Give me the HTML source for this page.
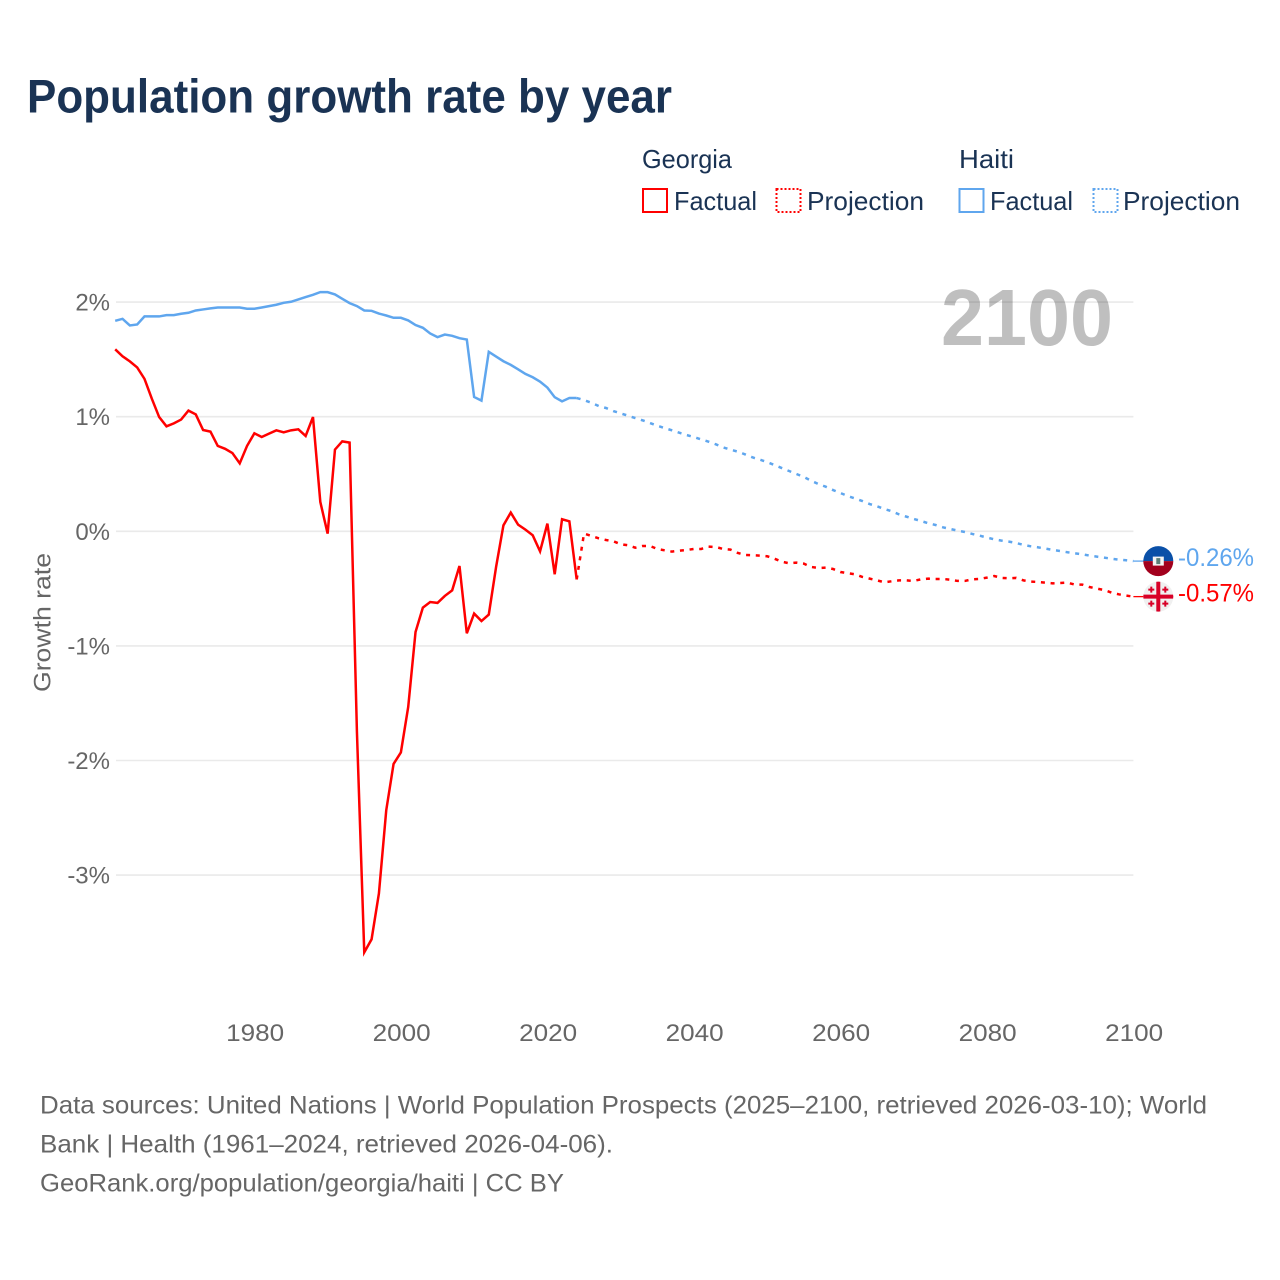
<!DOCTYPE html>
<html lang="en">
<head>
<meta charset="utf-8">
<title>Population growth rate by year</title>
<style>
html,body{margin:0;padding:0;background:#fff;width:1280px;height:1280px;overflow:hidden}
svg{display:block}
text{font-family:"Liberation Sans",sans-serif}
</style>
</head>
<body>
<svg id="chart" xmlns="http://www.w3.org/2000/svg" width="1280" height="1280" viewBox="0 0 1280 1280">
  <rect width="1280" height="1280" fill="#fff"/>
  <text x="27" y="112.500" font-size="47" font-weight="700" fill="#1a3354" textLength="645" lengthAdjust="spacingAndGlyphs">Population growth rate by year</text>

  <g font-size="26" fill="#1a3354">
    <text x="642" y="168" textLength="90" lengthAdjust="spacingAndGlyphs">Georgia</text>
    <text x="959" y="168" textLength="55" lengthAdjust="spacingAndGlyphs">Haiti</text>
    <rect x="643" y="189" width="24" height="23" fill="none" stroke="#ff0000" stroke-width="2"/>
    <text x="674" y="210" textLength="83" lengthAdjust="spacingAndGlyphs">Factual</text>
    <rect x="776.500" y="189" width="24" height="23" fill="none" stroke="#ff0000" stroke-width="2" stroke-dasharray="2 2"/>
    <text x="807" y="210" textLength="117" lengthAdjust="spacingAndGlyphs">Projection</text>
    <rect x="959.500" y="189" width="24" height="23" fill="none" stroke="#5fa6ee" stroke-width="2"/>
    <text x="990" y="210" textLength="83" lengthAdjust="spacingAndGlyphs">Factual</text>
    <rect x="1093.500" y="189" width="24" height="23" fill="none" stroke="#5fa6ee" stroke-width="2" stroke-dasharray="2 2"/>
    <text x="1123" y="210" textLength="117" lengthAdjust="spacingAndGlyphs">Projection</text>
  </g>

  <g id="grid"></g>
  <g id="yticks" font-size="24" fill="#666" text-anchor="end"></g>
  <g id="xticks" font-size="24" fill="#666" text-anchor="middle"></g>
  <text transform="translate(50.500,622.500) rotate(-90)" font-size="24" fill="#666" text-anchor="middle" textLength="139" lengthAdjust="spacingAndGlyphs">Growth rate</text>
  <text id="year-label" x="941" y="345" font-size="80" font-weight="700" fill="#000" fill-opacity="0.25" textLength="172" lengthAdjust="spacingAndGlyphs">2100</text>

  <g id="series" fill="none"></g>

  <defs>
    <clipPath id="clip-haiti"><circle cx="0" cy="0" r="15"/></clipPath>
    <clipPath id="clip-georgia"><circle cx="0" cy="0" r="15"/></clipPath>
  </defs>
  <g id="flag-haiti">
    <g clip-path="url(#clip-haiti)">
      <rect x="-16" y="-16" width="32" height="16" fill="#0a50a8"/>
      <rect x="-16" y="0" width="32" height="16" fill="#a2001d"/>
      <rect x="-5.500" y="-4.500" width="11" height="9" fill="#f4f4f4"/>
      <rect x="-2" y="-3" width="4" height="6" fill="#5a7f78"/>
    </g>
  </g>
  <g id="flag-georgia">
    <g clip-path="url(#clip-georgia)">
      <rect x="-16" y="-16" width="32" height="32" fill="#f0f0f0"/>
      <rect x="-2" y="-16" width="4" height="32" fill="#d80027"/>
      <rect x="-16" y="-2" width="32" height="4" fill="#d80027"/>
      <path d="M-7-10v6M-10-7h6M7-10v6M4-7h6M-7 4v6M-10 7h6M7 4v6M4 7h6" stroke="#d80027" stroke-width="2" fill="none"/>
    </g>
  </g>
  <text id="label-haiti" x="1178" font-size="25" fill="#5fa6ee" textLength="76" lengthAdjust="spacingAndGlyphs"></text>
  <text id="label-georgia" x="1178" font-size="25" fill="#ff0000" textLength="76" lengthAdjust="spacingAndGlyphs"></text>

  <g font-size="25" fill="#666">
    <text x="40" y="1113.500" textLength="1167" lengthAdjust="spacingAndGlyphs">Data sources: United Nations | World Population Prospects (2025–2100, retrieved 2026-03-10); World</text>
    <text x="40" y="1152.500" textLength="573" lengthAdjust="spacingAndGlyphs">Bank | Health (1961–2024, retrieved 2026-04-06).</text>
    <text x="40" y="1191.500" textLength="524" lengthAdjust="spacingAndGlyphs">GeoRank.org/population/georgia/haiti | CC BY</text>
  </g>
</svg>
<script>
const firstFactualYear = 1961;
const firstProjectionYear = 2025;
const yTicks = [2, 1, 0, -1, -2, -3];
const xTicks = [1980, 2000, 2020, 2040, 2060, 2080, 2100];

const georgiaFactual = [
  1.588,1.527,1.483,1.43,1.33,1.157,0.997,0.916,0.942,0.975,
  1.053,1.02,0.884,0.87,0.745,0.72,0.683,0.593,0.745,0.855,
  0.823,0.852,0.881,0.864,0.881,0.89,0.832,0.997,0.256,-0.02,
  0.713,0.785,0.774,-1.75,-3.674,-3.56,-3.16,-2.435,-2.03,-1.93,
  -1.533,-0.879,-0.666,-0.617,-0.625,-0.564,-0.515,-0.303,-0.89,-0.718,
  -0.783,-0.727,-0.31,0.052,0.163,0.058,0.015,-0.035,-0.175,0.067,
  -0.375,0.105,0.087,-0.42
];
const georgiaProjection = [
  -0.02,-0.04,-0.061,-0.076,-0.087,-0.113,-0.122,-0.143,-0.128,-0.128,
  -0.154,-0.166,-0.177,-0.169,-0.163,-0.154,-0.154,-0.134,-0.137,-0.154,
  -0.16,-0.189,-0.207,-0.209,-0.212,-0.218,-0.239,-0.265,-0.279,-0.273,
  -0.282,-0.311,-0.32,-0.317,-0.329,-0.355,-0.366,-0.375,-0.398,-0.413,
  -0.428,-0.445,-0.436,-0.428,-0.428,-0.433,-0.419,-0.413,-0.416,-0.416,
  -0.422,-0.433,-0.433,-0.419,-0.416,-0.404,-0.39,-0.407,-0.41,-0.407,
  -0.428,-0.439,-0.442,-0.448,-0.454,-0.451,-0.448,-0.465,-0.465,-0.486,
  -0.5,-0.512,-0.535,-0.55,-0.561,-0.57
];
const haitiFactual = [
  1.837,1.854,1.796,1.805,1.875,1.875,1.875,1.886,1.886,1.898,
  1.907,1.927,1.936,1.945,1.953,1.953,1.953,1.953,1.942,1.942,
  1.953,1.965,1.977,1.994,2.003,2.023,2.044,2.064,2.087,2.087,
  2.067,2.029,1.991,1.965,1.927,1.924,1.9,1.883,1.863,1.863,
  1.84,1.8,1.776,1.726,1.694,1.717,1.706,1.685,1.673,1.172,
  1.14,1.566,1.525,1.484,1.452,1.414,1.373,1.344,1.306,1.254,
  1.17,1.134,1.163,1.163
];
const haitiProjection = [
  1.145,1.122,1.093,1.076,1.049,1.029,1.009,0.988,0.968,0.945,
  0.921,0.901,0.881,0.86,0.84,0.823,0.802,0.782,0.759,0.732,
  0.712,0.695,0.671,0.645,0.625,0.604,0.578,0.552,0.526,0.5,
  0.474,0.442,0.412,0.389,0.36,0.334,0.308,0.287,0.264,0.238,
  0.218,0.195,0.175,0.148,0.128,0.108,0.09,0.07,0.055,0.035,
  0.02,0.006,-0.006,-0.023,-0.038,-0.055,-0.07,-0.081,-0.09,-0.102,
  -0.119,-0.131,-0.14,-0.151,-0.163,-0.172,-0.183,-0.192,-0.2,-0.212,
  -0.221,-0.23,-0.239,-0.247,-0.253,-0.26
];

const SVG_NS = 'http://www.w3.org/2000/svg';
const plotLeft = 115.2;
const plotRight = 1133.4;
const xScale = function (year) { return plotLeft + (year - firstFactualYear) * (plotRight - plotLeft) / 139; };
const yScale = function (value) { return 531.3 - value * 114.6; };

const gridGroup = document.getElementById('grid');
const yTickGroup = document.getElementById('yticks');
const xTickGroup = document.getElementById('xticks');
const seriesGroup = document.getElementById('series');

yTicks.forEach(function (tick) {
  const line = document.createElementNS(SVG_NS, 'line');
  
  
  line.setAttribute('x1', plotLeft + 0.8);
  line.setAttribute('x2', plotRight);
  line.setAttribute('y1', yScale(tick));
  line.setAttribute('y2', yScale(tick));
  line.setAttribute('stroke', '#eaeaea');
  line.setAttribute('stroke-width', '1.6');
  gridGroup.appendChild(line);

  const label = document.createElementNS(SVG_NS, 'text');
  
  
  label.setAttribute('x', 110);
  label.setAttribute('y', yScale(tick) + 8.5);
  label.textContent = tick + '%';
  yTickGroup.appendChild(label);
});

xTicks.forEach(function (tick) {
  const label = document.createElementNS(SVG_NS, 'text');
  
  
  label.setAttribute('x', xScale(tick) + 0.7);
  label.setAttribute('y', 1041);
  label.setAttribute('textLength', '58');
  label.setAttribute('lengthAdjust', 'spacingAndGlyphs');
  label.textContent = tick;
  xTickGroup.appendChild(label);
});

function pathFor(startYear, values) {
  return values.map(function (value, i) {
    return (i ? 'L' : 'M') + xScale(startYear + i).toFixed(2) + ' ' + yScale(value).toFixed(2);
  }).join('');
}

function drawFactual(name, values, color) {
  const path = document.createElementNS(SVG_NS, 'path');
  
  
  path.setAttribute('d', pathFor(firstFactualYear, values));
  path.setAttribute('stroke', color);
  path.setAttribute('stroke-width', '2.5');
  path.setAttribute('stroke-linejoin', 'miter');
  seriesGroup.appendChild(path);
}

function drawProjection(name, lastFactual, values, color) {
  const path = document.createElementNS(SVG_NS, 'path');
  
  
  path.setAttribute('d', pathFor(firstProjectionYear - 1, [lastFactual].concat(values)));
  path.setAttribute('stroke', color);
  path.setAttribute('stroke-width', '2.5');
  path.setAttribute('stroke-dasharray', '4 5.7');
  seriesGroup.appendChild(path);
}

function drawLeader(name, value, color) {
  const line = document.createElementNS(SVG_NS, 'line');
  
  
  line.setAttribute('x1', xScale(2100));
  line.setAttribute('x2', 1144);
  line.setAttribute('y1', yScale(value));
  line.setAttribute('y2', yScale(value));
  line.setAttribute('stroke', color);
  line.setAttribute('stroke-width', '1.3');
  seriesGroup.appendChild(line);
}

drawFactual('haiti-factual-line', haitiFactual, '#5fa6ee');
drawProjection('haiti-projection-line', haitiFactual[haitiFactual.length - 1], haitiProjection, '#5fa6ee');
drawFactual('georgia-factual-line', georgiaFactual, '#ff0000');
drawProjection('georgia-projection-line', georgiaFactual[georgiaFactual.length - 1], georgiaProjection, '#ff0000');

const haitiEnd = haitiProjection[haitiProjection.length - 1];
const georgiaEnd = georgiaProjection[georgiaProjection.length - 1];
drawLeader('haiti-end-leader', haitiEnd, '#5fa6ee');
drawLeader('georgia-end-leader', georgiaEnd, '#ff0000');

document.getElementById('flag-haiti').setAttribute('transform', 'translate(1158.3,' + yScale(haitiEnd).toFixed(2) + ')');
document.getElementById('flag-georgia').setAttribute('transform', 'translate(1158.3,' + yScale(georgiaEnd).toFixed(2) + ')');

const haitiLabel = document.getElementById('label-haiti');
haitiLabel.setAttribute('y', yScale(haitiEnd) + 5);
haitiLabel.textContent = haitiEnd.toFixed(2) + '%';
const georgiaLabel = document.getElementById('label-georgia');
georgiaLabel.setAttribute('y', yScale(georgiaEnd) + 5);
georgiaLabel.textContent = georgiaEnd.toFixed(2) + '%';
</script>
</body>
</html>
